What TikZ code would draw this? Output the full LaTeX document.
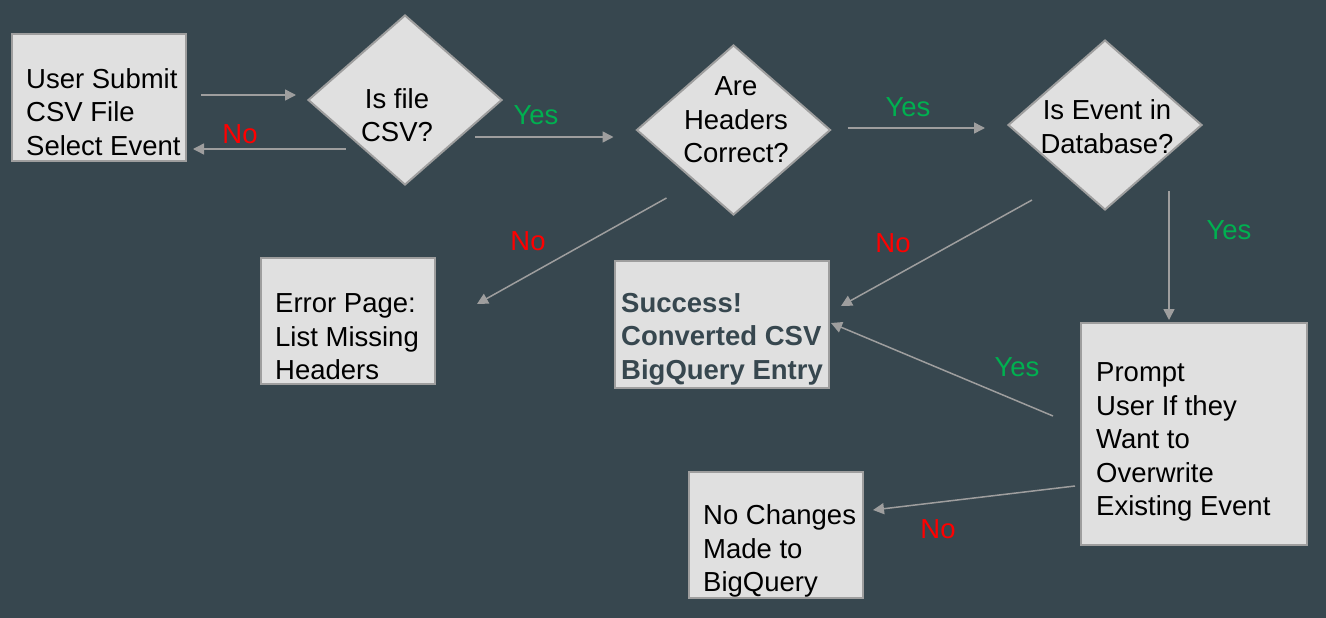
\documentclass[tikz,border=0pt]{standalone}
\usepackage{fontspec}
\setmainfont{Liberation Sans}
\usetikzlibrary{arrows.meta, shapes.geometric}
\definecolor{slatebg}{RGB}{55,71,79}
\definecolor{boxfill}{RGB}{224,224,224}
\definecolor{boxline}{RGB}{158,158,158}
\definecolor{yesgreen}{RGB}{0,176,80}
\definecolor{nored}{RGB}{255,0,0}

\begin{document}
\begin{tikzpicture}[
  x=1pt, y=-1pt,
  proc/.style={rectangle, draw=boxline, fill=boxfill, line width=2pt, inner sep=0pt},
  decision/.style={diamond, aspect=1.14, draw=boxline, fill=boxfill, line width=2pt,
                   inner sep=0pt, minimum width=194pt, minimum height=170pt},
  txt/.style={font=\fontsize{27.5}{33.5}\selectfont, inner sep=0pt},
  lefttxt/.style={txt, align=left, anchor=west},
  midtxt/.style={txt, align=center},
  yestxt/.style={txt, text=yesgreen},
  notxt/.style={txt, text=nored},
  arr/.style={-{Triangle[length=11pt, width=11pt]}, line width=1.5pt, boxline}
]
\useasboundingbox[fill=slatebg] (0,0) rectangle (1326,618);

% boxes and decisions
\node[proc, minimum width=174pt, minimum height=127pt] (user) at (99,97.5) {};
\node[decision] (isCSV) at (405,100) {};
\node[decision] (headers) at (733.5,130) {};
\node[decision] (event) at (1105,125) {};
\node[proc, minimum width=174pt, minimum height=126pt] (error) at (348,321) {};
\node[proc, minimum width=214pt, minimum height=127pt] (success) at (722,324.5) {};
\node[proc, minimum width=226pt, minimum height=222pt] (prompt) at (1194,434) {};
\node[proc, minimum width=174pt, minimum height=126pt] (nochange) at (776,535) {};

% texts
\node[lefttxt] (userT) at (26,112) {User Submit\\CSV File\\Select Event};
\node[midtxt] (isCSVT) at (397,115) {Is file\\CSV?};
\node[midtxt] (headersT) at (736,120) {Are\\Headers\\Correct?};
\node[midtxt] (eventT) at (1107,126.5) {Is Event in\\Database?};
\node[lefttxt] (errorT) at (275,337) {Error Page:\\List Missing\\Headers};
\node[lefttxt, font=\fontsize{27.5}{33.5}\selectfont\bfseries, text=slatebg] (successT) at (621,339)
  {Success!\\Converted CSV\\BigQuery Entry};
\node[lefttxt] (promptT) at (1096,442) {Prompt\\User If they\\Want to\\Overwrite\\Existing Event};
\node[lefttxt] (nochangeT) at (703,551) {No Changes\\Made to\\BigQuery};

% connectors
\draw[arr] ([xshift=14pt, yshift=2.5pt]user.east) -- ([xshift=-11pt, yshift=5pt]isCSV.west);
\draw[arr] ([xshift=39pt, yshift=-49pt]isCSV.west) -- ([xshift=6pt, yshift=-51.5pt]user.east);
\draw[arr] ([xshift=-28pt, yshift=-37pt]isCSV.east) -- ([xshift=-22pt, yshift=-7pt]headers.west);
\draw[arr] ([xshift=16pt, yshift=2pt]headers.east) -- ([xshift=-22pt, yshift=-3pt]event.west);
\draw[arr] ([xshift=-67pt, yshift=18pt]headers.south) -- ([xshift=41pt, yshift=17pt]error.east);
\draw[arr] ([xshift=-73pt, yshift=11pt]event.south) -- ([xshift=11pt, yshift=18.5pt]success.east);
\draw[arr] ([xshift=64pt, yshift=20pt]event.south) -- ([xshift=-25pt, yshift=2pt]prompt.north);
\draw[arr] ([xshift=-27pt, yshift=18pt]prompt.west) -- ([xshift=1pt, yshift=1.5pt]success.east);
\draw[arr] ([xshift=-5pt, yshift=-52pt]prompt.west) -- ([xshift=9pt, yshift=25pt]nochange.east);

% yes / no labels
\node[notxt] (noCSV) at (240,134) {No};
\node[yestxt] (yesCSV) at (536,115) {Yes};
\node[yestxt] (yesHead) at (908,107) {Yes};
\node[notxt] (noHead) at (528,241) {No};
\node[notxt] (noEvent) at (893,243) {No};
\node[yestxt] (yesEvent) at (1229,230) {Yes};
\node[yestxt] (yesOver) at (1017,367) {Yes};
\node[notxt] (noOver) at (938,529) {No};
\end{tikzpicture}
\end{document}
